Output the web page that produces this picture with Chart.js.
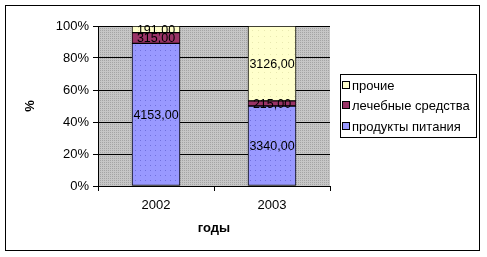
<!DOCTYPE html>
<html lang="ru">
<head>
    <meta charset="UTF-8">
    <title>Структура по годам</title>
    <script src="https://cdn.jsdelivr.net/npm/chart.js"></script>
    <style>
        html, body { margin: 0; padding: 0; background: #fff; }
        #wrap { width: 487px; height: 257px; }
    </style>
</head>
<body>
    <div id="wrap"><canvas id="chart" width="487" height="257"></canvas></div>

    <script>
        // данные
        const years = ['2002', '2003'];
        const food = [4153, 3340];
        const medicine = [315, 215];
        const other = [191, 3126];
        const yTicks = [0, 20, 40, 60, 80, 100];

        const totals = years.map((_, i) => food[i] + medicine[i] + other[i]);
        const pct = arr => arr.map((v, i) => v / totals[i] * 100);

        // узоры заливки
        function makePattern(base, dot, size) {
            const c = document.createElement('canvas');
            c.width = size; c.height = size;
            const g = c.getContext('2d');
            g.fillStyle = base;
            g.fillRect(0, 0, size, size);
            g.fillStyle = dot;
            g.fillRect(0, 0, 1, 1);
            return g.createPattern(c, 'repeat');
        }
        const ctx = document.getElementById('chart').getContext('2d');
        const plotBg = makePattern('#c6c6c6', '#a4a4a4', 2);
        const blueFill = makePattern('#9999ff', '#7070dd', 5);
        const yellowFill = makePattern('#ffffcc', '#e8e8b0', 6);

        const fmt = v => v.toFixed(2).replace('.', ',');
        const FONT = '"Liberation Sans", Arial, sans-serif';

        const frame = {
            id: 'frame',
            beforeDraw(chart) {
                const c = chart.ctx, a = chart.chartArea;
                c.save();
                c.fillStyle = '#fff';
                c.fillRect(0, 0, chart.width, chart.height);
                c.fillStyle = plotBg;
                c.fillRect(a.left, a.top, a.right - a.left, a.bottom - a.top);
                c.strokeStyle = '#000';
                c.lineWidth = 1;
                c.strokeRect(5.5, 5.5, 474, 245);
                c.restore();
            },
            afterDatasetsDraw(chart) {
                const c = chart.ctx;
                c.save();
                c.font = '12.5px ' + FONT;
                c.fillStyle = '#000';
                c.textAlign = 'center';
                c.textBaseline = 'middle';
                chart.data.datasets.forEach((ds, di) => {
                    chart.getDatasetMeta(di).data.forEach((bar, i) => {
                        c.fillText(fmt(ds.raw[i]), bar.x, (bar.y + bar.base) / 2 + 1);
                    });
                });
                c.restore();
            },
            afterDraw(chart) {
                // легенда
                const c = chart.ctx;
                c.save();
                c.strokeStyle = '#000';
                c.lineWidth = 1;
                c.strokeRect(340.5, 74.5, 136, 63);
                c.font = '13px ' + FONT;
                c.textBaseline = 'middle';
                const rows = [85, 105, 126];
                const order = chart.data.datasets.slice().reverse();
                order.forEach((ds, k) => {
                    const y = rows[k];
                    c.fillStyle = ds.legendColor;
                    c.fillRect(342, y - 3, 7, 7);
                    c.strokeRect(342.5, y - 3.5, 7, 7);
                    c.fillStyle = '#000';
                    c.fillText(ds.label, 352, y + 1);
                });
                c.restore();
            }
        };

        new Chart(ctx, {
            type: 'bar',
            data: {
                labels: years,
                datasets: [
                    { label: 'продукты питания', data: pct(food), raw: food, backgroundColor: blueFill, legendColor: '#9999ff' },
                    { label: 'лечебные средства', data: pct(medicine), raw: medicine, backgroundColor: '#993366', legendColor: '#993366' },
                    { label: 'прочие', data: pct(other), raw: other, backgroundColor: yellowFill, legendColor: '#ffffcc' }
                ].map(d => Object.assign(d, {
                    borderColor: '#000',
                    borderWidth: 1,
                    borderSkipped: false,
                    barThickness: 48
                }))
            },
            options: {
                responsive: false,
                animation: false,
                events: [],
                layout: { padding: { top: 26, right: 157, left: 0, bottom: 0 } },
                plugins: { legend: { display: false }, tooltip: { enabled: false } },
                scales: {
                    x: {
                        stacked: true,
                        afterFit: s => { s.height = 71; },
                        grid: { drawOnChartArea: false, color: '#000', tickLength: 5, offset: true },
                        border: { color: '#000' },
                        ticks: { color: '#000', padding: 7, font: { family: FONT, size: 13 } },
                        title: { display: true, text: 'годы', color: '#000', padding: { top: 0, bottom: 21 },
                                 font: { family: FONT, size: 13, weight: 'bold' } }
                    },
                    y: {
                        stacked: true,
                        min: 0,
                        max: 100,
                        afterFit: s => { s.width = 98; },
                        afterBuildTicks: s => { s.ticks = yTicks.map(v => ({ value: v })); },
                        grid: { color: '#000', tickLength: 5 },
                        border: { color: '#000' },
                        ticks: { color: '#000', padding: 4, callback: v => v + '%',
                                 font: { family: FONT, size: 13 } },
                        title: { display: true, text: '%', color: '#000', padding: { top: 23, bottom: 0 },
                                 font: { family: FONT, size: 13, weight: 'bold' } }
                    }
                }
            },
            plugins: [frame]
        });
    </script>
</body>
</html>
